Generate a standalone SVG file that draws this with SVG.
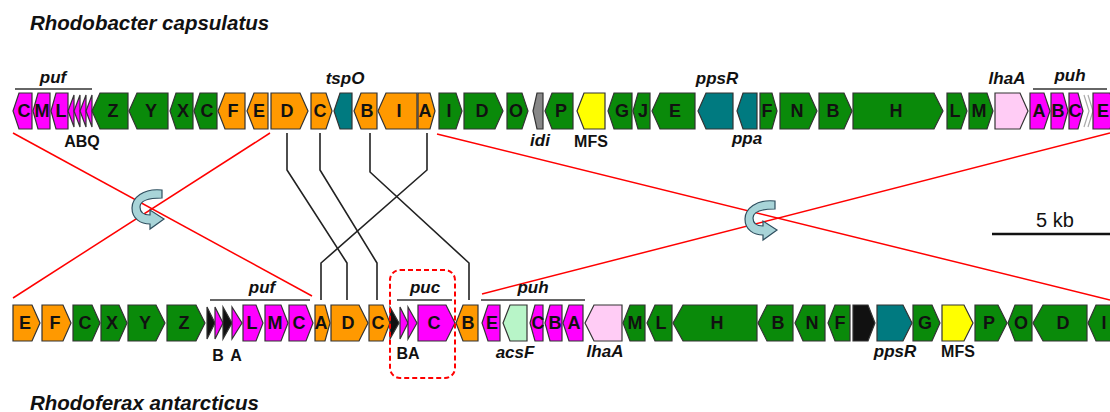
<svg xmlns="http://www.w3.org/2000/svg" width="1110" height="412" viewBox="0 0 1110 412">
<style>
.g{stroke:#333;stroke-width:1.2;stroke-linejoin:miter}
.mag{fill:#ff00ff}.grn{fill:#0a8a0a}.org{fill:#ff9900}.teal{fill:#007a80}.yel{fill:#ffff00}.pink{fill:#ffccf5}.lgr{fill:#b8f5c8}.gry{fill:#888}.blk{fill:#111}
text{font-family:"Liberation Sans",Arial,sans-serif;fill:#111}
.gl{font-size:18px;font-weight:bold;text-anchor:middle}
.it{font-size:17px;font-weight:bold;font-style:italic;text-anchor:middle}
.lb{font-size:16px;font-weight:bold;text-anchor:middle}
.title{font-size:20.5px;font-weight:bold;font-style:italic}
.bar{stroke:#333;stroke-width:1.5;fill:none}
.red{stroke:#ff0000;stroke-width:1.5;fill:none}
.con{stroke:#222;stroke-width:1.6;fill:none}
.rot{fill:#a8d4d8;stroke:#2f4f5f;stroke-width:1.2}
</style>
<rect width="1110" height="412" fill="#fff"/>
<text class="title" x="30" y="30">Rhodobacter capsulatus</text>
<text class="title" x="30" y="410">Rhodoferax antarcticus</text>

<g id="connectors">
<line class="red" x1="13" y1="133" x2="312" y2="296"/>
<line class="red" x1="270" y1="133" x2="13" y2="298"/>
<line class="red" x1="437" y1="134" x2="1110" y2="300"/>
<line class="red" x1="482" y1="294" x2="1110" y2="133"/>
<polyline class="con" points="287,133 287,170 347,263 347,300"/>
<polyline class="con" points="320,133 320,170 377,263 377,300"/>
<polyline class="con" points="370,133 370,172 469,263 469,300"/>
<polyline class="con" points="427,133 427,170 321,263 321,300"/>
</g>

<g id="rotation-arrows">
<path class="rot" d="M162,190 C143,188 132,198 132,208 C132,219 141,224 150,224 L150,229 L164,219 L150,210 L150,215 C145,215 140,213 140,207 C140,201 148,198 162,198 Z"/>
<path class="rot" transform="translate(613,11)" d="M162,190 C143,188 132,198 132,208 C132,219 141,224 150,224 L150,229 L164,219 L150,210 L150,215 C145,215 140,213 140,207 C140,201 148,198 162,198 Z"/>
</g>

<g id="scale-bar">
<text x="1055" y="227" style="font-size:20px;text-anchor:middle">5 kb</text>
<line x1="992" y1="234" x2="1110" y2="234" stroke="#111" stroke-width="2.5"/>
</g>

<g id="top-labels">
<text class="it" x="53" y="83">puf</text>
<line class="bar" x1="15" y1="89" x2="92" y2="89"/>
<text class="it" x="345" y="84">tspO</text>
<text class="it" x="717" y="84">ppsR</text>
<text class="it" x="1007" y="84">lhaA</text>
<text class="it" x="1070" y="81">puh</text>
<line class="bar" x1="1033" y1="89" x2="1107" y2="89"/>
<text class="lb" x="82" y="147">ABQ</text>
<text class="it" x="540" y="146">idi</text>
<text class="lb" x="591" y="147">MFS</text>
<text class="it" x="747" y="144">ppa</text>
</g>

<g id="top-C-puf"><polygon class="g mag" points="13,111 19,93 32,93 32,129 19,129"/><text class="gl" x="24" y="117">C</text></g>
<g id="top-M-puf"><polygon class="g mag" points="33,111 38,93 50,93 50,129 38,129"/><text class="gl" x="42" y="117">M</text></g>
<g id="top-L-puf"><polygon class="g mag" points="51,111 56,93 68,93 68,129 56,129"/><text class="gl" x="61" y="117">L</text></g>
<g id="top-ABQ">
<polygon class="g mag" points="68,111 74,95 74,127"/>
<polygon class="g mag" points="74,111 80,95 80,127"/>
<polygon class="g mag" points="80,111 86,95 86,127"/>
<polygon class="g mag" points="86,111 92,95 92,127"/>
</g>
<g id="top-Z"><polygon class="g grn" points="92,111 100,93 128,93 128,129 100,129"/><text class="gl" x="113" y="117">Z</text></g>
<g id="top-Y"><polygon class="g grn" points="129,111 137,93 168,93 168,129 137,129"/><text class="gl" x="151" y="117">Y</text></g>
<g id="top-X"><polygon class="g grn" points="170,111 176,93 193,93 193,129 176,129"/><text class="gl" x="183" y="117">X</text></g>
<g id="top-C-green"><polygon class="g grn" points="194,111 200,93 217,93 217,129 200,129"/><text class="gl" x="207" y="117">C</text></g>
<g id="top-F"><polygon class="g org" points="218,111 225,93 245,93 245,129 225,129"/><text class="gl" x="233" y="117">F</text></g>
<g id="top-E"><polygon class="g org" points="247,111 254,93 268,93 268,129 254,129"/><text class="gl" x="259" y="117">E</text></g>
<g id="top-D-orange"><polygon class="g org" points="271,93 300,93 308,111 300,129 271,129"/><text class="gl" x="287" y="117">D</text></g>
<g id="top-C-orange"><polygon class="g org" points="311,93 326,93 332,111 326,129 311,129"/><text class="gl" x="320" y="117">C</text></g>
<g id="top-tspO"><polygon class="g teal" points="334,111 340,93 352,93 352,129 340,129"/></g>
<g id="top-B-orange"><polygon class="g org" points="354,111 361,93 377,93 377,129 361,129"/><text class="gl" x="367" y="117">B</text></g>
<g id="top-I-orange"><polygon class="g org" points="378,111 386,93 417,93 417,129 386,129"/><text class="gl" x="399" y="117">I</text></g>
<g id="top-A-orange"><polygon class="g org" points="418,93 430,93 435,111 430,129 418,129"/><text class="gl" x="425" y="117">A</text></g>
<g id="top-I-green"><polygon class="g grn" points="439,93 456,93 462,111 456,129 439,129"/><text class="gl" x="449" y="117">I</text></g>
<g id="top-D-green"><polygon class="g grn" points="464,93 495,93 503,111 495,129 464,129"/><text class="gl" x="482" y="117">D</text></g>
<g id="top-O"><polygon class="g grn" points="507,93 522,93 528,111 522,129 507,129"/><text class="gl" x="516" y="117">O</text></g>
<g id="top-idi"><polygon class="g gry" points="533,111 537,93 543,93 543,129 537,129"/></g>
<g id="top-P"><polygon class="g grn" points="545,111 552,93 573,93 573,129 552,129"/><text class="gl" x="561" y="117">P</text></g>
<g id="top-MFS"><polygon class="g yel" points="577,111 584,93 605,93 605,129 584,129"/></g>
<g id="top-G"><polygon class="g grn" points="608,111 614,93 632,93 632,129 614,129"/><text class="gl" x="622" y="117">G</text></g>
<g id="top-J"><polygon class="g grn" points="633,111 638,93 650,93 650,129 638,129"/><text class="gl" x="643" y="117">J</text></g>
<g id="top-E-green"><polygon class="g grn" points="652,111 660,93 695,93 695,129 660,129"/><text class="gl" x="675" y="117">E</text></g>
<g id="top-ppsR"><polygon class="g teal" points="698,111 706,93 733,93 733,129 706,129"/></g>
<g id="top-ppa"><polygon class="g teal" points="737,111 743,93 757,93 757,129 743,129"/></g>
<g id="top-F-green"><polygon class="g grn" points="760,93 772,93 777,111 772,129 760,129"/><text class="gl" x="767" y="117">F</text></g>
<g id="top-N"><polygon class="g grn" points="780,93 809,93 817,111 809,129 780,129"/><text class="gl" x="797" y="117">N</text></g>
<g id="top-B-green"><polygon class="g grn" points="819,93 844,93 852,111 844,129 819,129"/><text class="gl" x="833" y="117">B</text></g>
<g id="top-H"><polygon class="g grn" points="853,93 934,93 943,111 934,129 853,129"/><text class="gl" x="896" y="117">H</text></g>
<g id="top-L-green"><polygon class="g grn" points="947,93 961,93 967,111 961,129 947,129"/><text class="gl" x="955" y="117">L</text></g>
<g id="top-M-green"><polygon class="g grn" points="969,93 987,93 993,111 987,129 969,129"/><text class="gl" x="979" y="117">M</text></g>
<g id="top-lhaA"><polygon class="g pink" points="995,93 1020,93 1028,111 1020,129 995,129"/></g>
<g id="top-A-puh"><polygon class="g mag" points="1030,93 1044,93 1050,111 1044,129 1030,129"/><text class="gl" x="1039" y="117">A</text></g>
<g id="top-B-puh"><polygon class="g mag" points="1051,93 1063,93 1068,111 1063,129 1051,129"/><text class="gl" x="1058" y="117">B</text></g>
<g id="top-C-puh"><polygon class="g mag" points="1069,93 1078,93 1083,111 1078,129 1069,129"/><text class="gl" x="1075" y="117">C</text></g>
<g id="top-chevrons">
<polyline points="1084,95 1089,111 1084,127" fill="none" stroke="#aaa" stroke-width="1.2"/>
<polyline points="1088,95 1093,111 1088,127" fill="none" stroke="#aaa" stroke-width="1.2"/>
</g>
<g id="top-E-puh"><polygon class="g mag" points="1093,93 1110,93 1116,111 1110,129 1093,129"/><text class="gl" x="1103" y="117">E</text></g>

<g id="bottom-labels">
<text class="it" x="262" y="293">puf</text>
<line class="bar" x1="210" y1="300" x2="310" y2="300"/>
<text class="it" x="425" y="293">puc</text>
<line class="bar" x1="397" y1="300" x2="452" y2="300"/>
<text class="it" x="533" y="293">puh</text>
<line class="bar" x1="481" y1="300" x2="585" y2="300"/>
<text class="lb" x="218" y="361">B</text>
<text class="lb" x="236" y="361">A</text>
<text class="lb" x="408" y="359">BA</text>
<text class="it" x="515" y="358">acsF</text>
<text class="it" x="605" y="357">lhaA</text>
<text class="it" x="895" y="357">ppsR</text>
<text class="lb" x="958" y="357">MFS</text>
</g>

<g id="bot-E"><polygon class="g org" points="13,305 32,305 40,323 32,341 13,341"/><text class="gl" x="25" y="329">E</text></g>
<g id="bot-F"><polygon class="g org" points="42,305 63,305 71,323 63,341 42,341"/><text class="gl" x="55" y="329">F</text></g>
<g id="bot-C-green"><polygon class="g grn" points="73,305 92,305 100,323 92,341 73,341"/><text class="gl" x="85" y="329">C</text></g>
<g id="bot-X"><polygon class="g grn" points="101,305 119,305 127,323 119,341 101,341"/><text class="gl" x="112" y="329">X</text></g>
<g id="bot-Y"><polygon class="g grn" points="128,305 156,305 165,323 156,341 128,341"/><text class="gl" x="145" y="329">Y</text></g>
<g id="bot-Z"><polygon class="g grn" points="167,305 196,305 205,323 196,341 167,341"/><text class="gl" x="184" y="329">Z</text></g>
<g id="bot-puf-BA">
<polygon class="g blk" points="207,307 215,323 207,339"/>
<polygon class="g mag" points="215,307 223,323 215,339"/>
<polygon class="g blk" points="223,307 232,323 223,339"/>
<polygon class="g mag" points="232,307 242,323 232,339"/>
</g>
<g id="bot-L-puf"><polygon class="g mag" points="243,305 256,305 263,323 256,341 243,341"/><text class="gl" x="252" y="329">L</text></g>
<g id="bot-M-puf"><polygon class="g mag" points="265,305 281,305 288,323 281,341 265,341"/><text class="gl" x="275" y="329">M</text></g>
<g id="bot-C-puf"><polygon class="g mag" points="289,305 306,305 313,323 306,341 289,341"/><text class="gl" x="299" y="329">C</text></g>
<g id="bot-A-orange"><polygon class="g org" points="315,305 325,305 330,323 325,341 315,341"/><text class="gl" x="321" y="329">A</text></g>
<g id="bot-D-orange"><polygon class="g org" points="331,305 359,305 368,323 359,341 331,341"/><text class="gl" x="348" y="329">D</text></g>
<g id="bot-C-orange"><polygon class="g org" points="369,305 383,305 390,323 383,341 369,341"/><text class="gl" x="378" y="329">C</text></g>
<g id="bot-puc-BA">
<polygon class="g blk" points="390,307 399,323 390,339"/>
<polygon class="g mag" points="400,307 408,323 400,339"/>
<polygon class="g mag" points="408,307 417,323 408,339"/>
</g>
<g id="bot-C-puc"><polygon class="g mag" points="418,305 446,305 455,323 446,341 418,341"/><text class="gl" x="434" y="329">C</text></g>
<g id="bot-B-orange"><polygon class="g org" points="456,323 463,305 478,305 478,341 463,341"/><text class="gl" x="468" y="329">B</text></g>
<g id="bot-E-puh"><polygon class="g mag" points="482,323 488,305 500,305 500,341 488,341"/><text class="gl" x="492" y="329">E</text></g>
<g id="bot-acsF"><polygon class="g lgr" points="503,323 510,305 527,305 527,341 510,341"/></g>
<g id="bot-C-puh"><polygon class="g mag" points="530,323 535,305 543,305 543,341 535,341"/><text class="gl" x="538" y="329">C</text></g>
<g id="bot-B-puh"><polygon class="g mag" points="545,323 550,305 562,305 562,341 550,341"/><text class="gl" x="555" y="329">B</text></g>
<g id="bot-A-puh"><polygon class="g mag" points="563,323 569,305 583,305 583,341 569,341"/><text class="gl" x="574" y="329">A</text></g>
<g id="bot-lhaA"><polygon class="g pink" points="585,323 594,305 622,305 622,341 594,341"/></g>
<g id="bot-M-green"><polygon class="g grn" points="623,323 630,305 645,305 645,341 630,341"/><text class="gl" x="635" y="329">M</text></g>
<g id="bot-L-green"><polygon class="g grn" points="647,323 655,305 672,305 672,341 655,341"/><text class="gl" x="661" y="329">L</text></g>
<g id="bot-H"><polygon class="g grn" points="673,323 683,305 757,305 757,341 683,341"/><text class="gl" x="717" y="329">H</text></g>
<g id="bot-B-green"><polygon class="g grn" points="758,323 767,305 793,305 793,341 767,341"/><text class="gl" x="778" y="329">B</text></g>
<g id="bot-N"><polygon class="g grn" points="795,323 803,305 825,305 825,341 803,341"/><text class="gl" x="812" y="329">N</text></g>
<g id="bot-F-green"><polygon class="g grn" points="828,323 835,305 850,305 850,341 835,341"/><text class="gl" x="840" y="329">F</text></g>
<g id="bot-black"><polygon class="g blk" points="853,305 868,305 875,323 868,341 853,341"/></g>
<g id="bot-ppsR"><polygon class="g teal" points="877,305 903,305 912,323 903,341 877,341"/></g>
<g id="bot-G"><polygon class="g grn" points="913,305 932,305 940,323 932,341 913,341"/><text class="gl" x="925" y="329">G</text></g>
<g id="bot-MFS"><polygon class="g yel" points="942,305 964,305 973,323 964,341 942,341"/></g>
<g id="bot-P"><polygon class="g grn" points="975,305 998,305 1007,323 998,341 975,341"/><text class="gl" x="989" y="329">P</text></g>
<g id="bot-O"><polygon class="g grn" points="1008,323 1015,305 1032,305 1032,341 1015,341"/><text class="gl" x="1021" y="329">O</text></g>
<g id="bot-D-green"><polygon class="g grn" points="1033,323 1043,305 1087,305 1087,341 1043,341"/><text class="gl" x="1063" y="329">D</text></g>
<g id="bot-I-green"><polygon class="g grn" points="1088,323 1096,305 1116,305 1116,341 1096,341"/><text class="gl" x="1104" y="329">I</text></g>

<g id="puc-box"><rect x="390" y="270" width="65" height="108" rx="10" fill="none" stroke="#ff0000" stroke-width="2" stroke-dasharray="5,3"/></g>
</svg>
